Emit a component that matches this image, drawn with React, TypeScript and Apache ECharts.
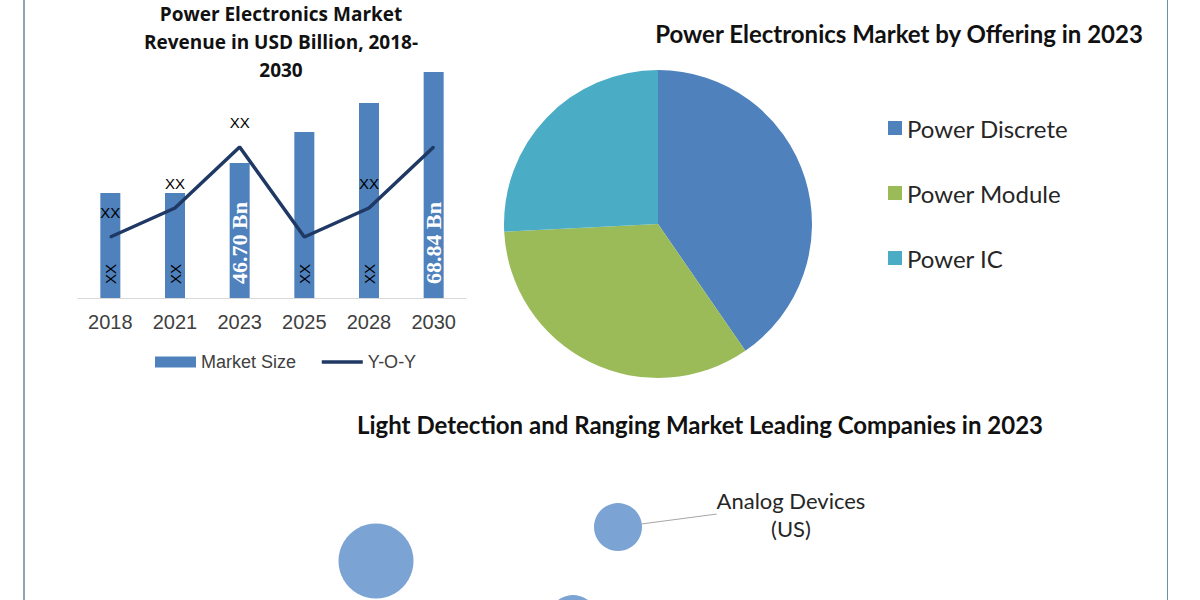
import React, { useEffect, useRef } from "react";
import * as echarts from "echarts";

// ---- Bar + line chart data ----
const years = ["2018", "2021", "2023", "2025", "2028", "2030"];
const marketSize = [32.0, 32.0, 41.1, 50.6, 59.4, 68.84];
const marketSizeLabels = ["XX", "XX", "46.70 Bn", "XX", "XX", "68.84 Bn"];
const yoyValues = [6.1, 9.0, 15.1, 6.1, 9.0, 15.1];
const yoyLabels = ["XX", "XX", "XX", "", "XX", ""];

// ---- Pie data ----
const offerings = ["Power Discrete", "Power Module", "Power IC"];
const offeringShares = [40.4, 33.8, 25.8];
const offeringColors = ["#4f81bd", "#9bbb59", "#4bacc6"];

// ---- Bubble data ----
const companies = ["Company 1", "Analog Devices\n(US)", "Company 3"];
const companyX = [15.2, 63.6, 54.6];
const companyY = [22.9, 42.9, -11.8];
const companySize = [75, 48, 50];
const companyLabelShown = [false, true, false];

const TITLE_FONT = "Lato, 'Open Sans', sans-serif";
const ARIAL = "'Liberation Sans', Arial, sans-serif";

export default function App() {
  const ref = useRef<HTMLDivElement>(null);

  useEffect(() => {
    if (!ref.current) return;
    const chart = echarts.init(ref.current, undefined, { renderer: "svg" });

    const xxStyle = {
      color: "#000",
      fontFamily: ARIAL,
      fontSize: 15,
      fontWeight: "normal",
    };
    const valueStyle = {
      color: "#fff",
      fontFamily: "'Liberation Serif', 'Times New Roman', serif",
      fontSize: 22,
      fontWeight: "bold",
    };

    const option: any = {
      animation: false,
      backgroundColor: "#ffffff",
      title: [
        {
          text: "Power Electronics Market\nRevenue in USD Billion, 2018-\n2030",
          left: 281,
          top: 0,
          padding: 0,
          textAlign: "center",
          textStyle: {
            fontFamily: "'Open Sans', sans-serif",
            fontWeight: "bold",
            fontSize: 19,
            lineHeight: 28,
            color: "#111",
          },
        },
        {
          text: "Power Electronics Market by Offering in 2023",
          left: 899,
          top: 19,
          padding: 0,
          textAlign: "center",
          textStyle: {
            fontFamily: TITLE_FONT,
            fontWeight: "bold",
            fontSize: 24,
            lineHeight: 28,
            color: "#111",
          },
        },
        {
          text: "Light Detection and Ranging Market Leading Companies in 2023",
          left: 700,
          top: 410,
          padding: 0,
          textAlign: "center",
          textStyle: {
            fontFamily: TITLE_FONT,
            fontWeight: "bold",
            fontSize: 24,
            lineHeight: 28,
            color: "#111",
          },
        },
      ],
      legend: [
        {
          left: 155,
          top: 353,
          padding: 0,
          itemGap: 24,
          itemWidth: 41,
          itemHeight: 11,
          textStyle: { fontFamily: ARIAL, fontSize: 18, color: "#404040" },
          data: [
            { name: "Market Size", icon: "rect" },
            {
              name: "Y-O-Y",
              itemStyle: { opacity: 0 },
              lineStyle: { width: 3.5, color: "#1f3864" },
            },
          ],
        },
        {
          orient: "vertical",
          left: 888,
          top: 116,
          padding: 0,
          itemGap: 41,
          itemWidth: 14,
          itemHeight: 14,
          icon: "rect",
          textStyle: { fontFamily: TITLE_FONT, fontSize: 24, color: "#262626", lineHeight: 24 },
          data: offerings,
        },
      ],
      grid: [
        { left: 78, top: 72, width: 388, height: 226 },
        { left: 300, top: 430, width: 500, height: 170 },
      ],
      xAxis: [
        {
          type: "category",
          gridIndex: 0,
          data: years,
          axisLine: { lineStyle: { color: "#d9d9d9", width: 1 } },
          axisTick: { show: false },
          axisLabel: { fontFamily: ARIAL, fontSize: 20, color: "#404040", margin: 14 },
        },
        { type: "value", gridIndex: 1, min: 0, max: 100, show: false },
      ],
      yAxis: [
        { type: "value", gridIndex: 0, min: 0, max: 68.84, show: false, splitLine: { show: false } },
        { type: "value", gridIndex: 0, min: 0, max: 22.6, show: false, splitLine: { show: false } },
        { type: "value", gridIndex: 1, min: 0, max: 100, show: false, splitLine: { show: false } },
      ],
      series: [
        {
          name: "Market Size",
          type: "bar",
          xAxisIndex: 0,
          yAxisIndex: 0,
          barWidth: 20,
          itemStyle: { color: "#4f81bd" },
          data: marketSize.map((v, i) => ({
            value: v,
            label: {
              show: true,
              position: "insideBottom",
              rotate: 90,
              align: "left",
              verticalAlign: "middle",
              distance: 14,
              formatter: marketSizeLabels[i],
              ...(marketSizeLabels[i] === "XX" ? xxStyle : valueStyle),
            },
          })),
          z: 2,
        },
        {
          name: "Y-O-Y",
          type: "line",
          xAxisIndex: 0,
          yAxisIndex: 1,
          symbol: "circle",
          symbolSize: 2,
          showSymbol: true,
          lineStyle: { color: "#1f3864", width: 3.5 },
          itemStyle: { color: "#1f3864" },
          label: { show: true },
          data: yoyValues.map((v, i) => ({
            value: v,
            label: {
              show: yoyLabels[i] !== "",
              position: "top",
              distance: 16,
              formatter: yoyLabels[i],
              color: "#000",
              fontFamily: ARIAL,
              fontSize: 15,
            },
          })),
          z: 3,
        },
        {
          name: "Offering",
          type: "pie",
          center: [658, 224],
          radius: 154,
          startAngle: 90,
          clockwise: true,
          label: { show: false },
          labelLine: { show: false },
          itemStyle: { borderWidth: 0 },
          data: offerings.map((n, i) => ({
            name: n,
            value: offeringShares[i],
            itemStyle: { color: offeringColors[i] },
          })),
        },
        {
          name: "Companies",
          type: "scatter",
          xAxisIndex: 1,
          yAxisIndex: 2,
          clip: false,
          itemStyle: { color: "#7ba3d3", opacity: 1 },
          symbolSize: (val: number[]) => val[2],
          data: companies.map((n, i) => ({
            name: n,
            value: [companyX[i], companyY[i], companySize[i]],
            label: {
              show: companyLabelShown[i],
              formatter: "{b}",
              position: "inside",
              fontFamily: TITLE_FONT,
              fontSize: 22,
              lineHeight: 28,
              color: "#262626",
              align: "center",
            },
            labelLine: { show: companyLabelShown[i], lineStyle: { color: "#a6a6a6", width: 1 } },
          })),
          labelLayout: (params: any) =>
            params.text ? { dx: 173, dy: -13 } : {},
        },
      ],
      graphic: [
        {
          type: "line",
          shape: { x1: 24, y1: 0, x2: 24, y2: 600 },
          style: { stroke: "#8ea3b8", lineWidth: 2 },
        },
        {
          type: "line",
          shape: { x1: 1167.5, y1: 0, x2: 1167.5, y2: 600 },
          style: { stroke: "#6b93a3", lineWidth: 1 },
        },
      ],
    };

    chart.setOption(option);
    return () => chart.dispose();
  }, []);

  return (
    <div
      ref={ref}
      style={{ position: "fixed", left: 0, top: 0, width: 1200, height: 600, background: "#fff" }}
    />
  );
}
